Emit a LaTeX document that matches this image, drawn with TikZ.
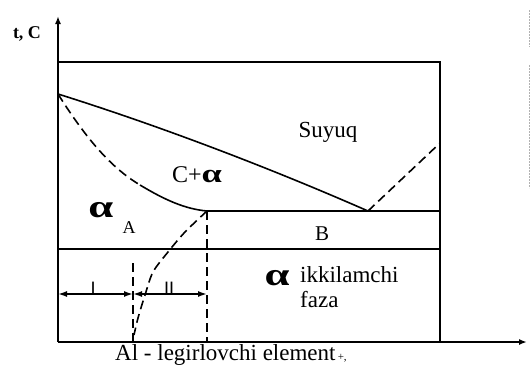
\documentclass[tikz,border=0pt]{standalone}
\usepackage{fontspec}
\setmainfont{Liberation Serif}
\newfontfamily\sansfam{Liberation Sans}
\usetikzlibrary{arrows.meta}
\newcommand{\alf}[1]{\scalebox{1.4}[1]{\fontsize{#1}{#1}\selectfont\bfseries α}}
\begin{document}
\begin{tikzpicture}[x=1pt,y=-1pt,
  ln/.style={line width=1.6pt},
  dsh/.style={line width=1.6pt, dash pattern=on 9pt off 5pt},
  lbl/.style={inner sep=0pt, font=\fontsize{23}{25}\selectfont},
  tick/.style={inner sep=0pt, font=\sansfam\fontsize{18}{18}\selectfont},
  dbl/.style={line width=1.6pt, {Latex[length=9pt,width=6pt]}-{Latex[length=9pt,width=6pt]}}]
\useasboundingbox (0,0) rectangle (530,365);
% key points
\coordinate (O) at (58,342);
\coordinate (Ytop) at (58,16);
\coordinate (Xend) at (527,342);
\coordinate (TL) at (58,62);
\coordinate (TR) at (440,62);
\coordinate (BR) at (440,342);
\coordinate (M) at (58,94);
\coordinate (P) at (140,185);
\coordinate (E) at (368,211);
\coordinate (S) at (207,211);
\coordinate (R) at (440,143);
\coordinate (RE) at (440,211);
\coordinate (L1) at (58,249);
\coordinate (R1) at (440,249);
\coordinate (Sb) at (207,342);
\coordinate (Ct) at (133,263);
\coordinate (Cb) at (133,342);
\coordinate (A1) at (58,294);
\coordinate (A2) at (133,294);
\coordinate (A3) at (207,294);
% axes and frame
\draw[ln,-{Latex[length=8pt,width=6pt]}] (O) -- (Ytop);
\draw[ln,-{Latex[length=8pt,width=6pt]}] (O) -- (Xend);
\draw[ln] (TL) -- (TR) -- (BR);
% liquidus
\draw[ln] (M) .. controls (160,126) and (270,168) .. (E);
\draw[dsh] (E) -- (R);
% solidus
\draw[dsh] (M) .. controls (90,145) and (115,170) .. (P);
\draw[ln] (P) .. controls (165,200) and (185,209) .. (S);
% horizontals
\draw[ln] (S) -- (RE);
\draw[ln] (L1) -- (R1);
% verticals
\draw[dsh] (S) -- (Sb);
\draw[dsh] (Ct) -- (Cb);
% solvus
\draw[dsh] plot[smooth] coordinates {(207,211) (185,232) (168,252) (153,272) (145,295) (138,318) (134,335)};
% arrows I, II
\draw[dbl] (A1) -- (A2);
\draw[dbl] (A2) -- (A3);
\node[tick,anchor=south] (t1) at (93,295) {I};
\node[tick,anchor=south] (t2) at (169,295) {II};
% scan edge
\draw[gray!60,line width=0.6pt,dash pattern=on 2pt off 1pt] (529,10) -- (529,47);
\draw[gray!60,line width=0.6pt,dash pattern=on 2pt off 1pt] (529,65) -- (529,188);
% labels
\node[inner sep=0pt,anchor=base,font=\fontsize{18}{18}\selectfont\bfseries] (tc) at (27,38) {t, C};
\node[lbl,anchor=base] (suyuq) at (328,137) {Suyuq};
\node[lbl,anchor=base,font=\fontsize{24}{26}\selectfont] (ca) at (197,182) {C+\alf{26}};
\node[inner sep=0pt] (al1) at (101,210) {\alf{32}};
\node[inner sep=0pt,anchor=base,font=\fontsize{18}{18}\selectfont] (la) at (129,233) {A};
\node[inner sep=0pt,anchor=base,font=\fontsize{21}{21}\selectfont] (lb) at (322,240) {B};
\node[inner sep=0pt] (al2) at (277,278) {\alf{32}};
\node[lbl,anchor=base west] (ik) at (300,282) {ikkilamchi};
\node[lbl,anchor=base west] (fz) at (300,307) {faza};
\node[lbl,anchor=base west] (ax) at (115,360) {Al - legirlovchi element};
\node[inner sep=0pt,anchor=base west,font=\fontsize{11}{11}\selectfont] (pl) at (ax.base east) {\,+,};
\end{tikzpicture}
\end{document}
